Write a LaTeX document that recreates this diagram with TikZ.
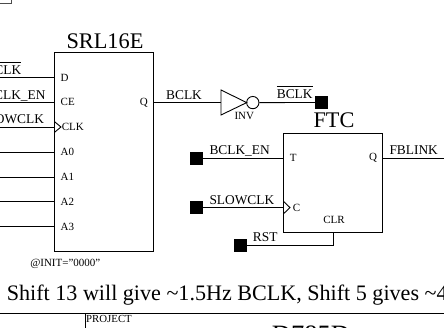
\documentclass[tikz,border=0pt]{standalone}
\usepackage{fontspec}
\setmainfont{Liberation Serif}
\newcommand\barred[1]{\setbox0\hbox{#1}\rlap{\rule[11.8pt]{\wd0}{0.7pt}}\box0 }
\tikzset{
  wire/.style={line width=0.9pt,draw=black},
  part/.style={line width=0.9pt,draw=black},
  pin/.style={inner sep=0pt,font=\fontsize{11}{12}\selectfont},
  net/.style={inner sep=0pt,font=\fontsize{13.4}{14}\selectfont},
  ttl/.style={inner sep=0pt,font=\fontsize{22.3}{24}\selectfont},
  term/.style={fill=black,draw=none,minimum size=13pt,inner sep=0pt},
}
\begin{document}
\begin{tikzpicture}[x=1pt,y=-1pt]
\useasboundingbox (0,0) rectangle (444,328);
\clip (0,0) rectangle (444,328);
\fill[white] (0,0) rectangle (444,328);
% top-left fragment
\draw[part,black!70] (-2,3) -- (11.3,3) -- (11.3,-2);
% SRL16E
\node[part,draw,minimum width=99.4pt,minimum height=198.3pt,inner sep=0pt] (srl) at (104,151.85) {};
\node[ttl,anchor=base] (srlt) at (105,48.3) {SRL16E};
\foreach \n/\t/\y in {d/D/77.7,ce/CE/102.3,a0/A0/152,a1/A1/177,a2/A2/201.5,a3/A3/226.5}{
  \coordinate (s\n) at (54.3,\y);
  \coordinate (l\n) at (-2,\y);
  \draw[wire] (l\n) -- (s\n);
  \node[pin,anchor=west] (t\n) at (60.5,\y) {\t};
}
\coordinate (sclk) at (54.3,127);
\coordinate (lclk) at (-2,127);
\draw[wire] (lclk) -- (sclk);
\coordinate (ca) at (54.3,121.5);
\coordinate (cb) at (61,127);
\coordinate (cc) at (54.3,132.5);
\draw[wire] (ca) -- (cb) -- (cc);
\node[pin,anchor=west] (tclk) at (61.7,127) {CLK};
\node[pin,anchor=east] (tq) at (148,102.3) {Q};
\node[net,anchor=base west] (n1) at (-14.7,75) {\barred{BCLK}};
\node[net,anchor=base west] (n2) at (-15,99.3) {BCLK\_EN};
\node[net,anchor=base west] (n3) at (-21,124) {SLOWCLK};
\node[pin,anchor=center] (init) at (65.3,264) {@INIT="0000"};
% Q to inverter
\coordinate (invA) at (221,90);
\coordinate (invB) at (221,115);
\coordinate (invC) at (246.7,102.6);
\node[circle,part,draw,inner sep=0pt,minimum size=12.3pt] (bub) at (252.8,102.6) {};
\draw[part] (invA) -- (invB) -- (invC) -- cycle;
\coordinate (qs) at (153.7,102.3);
\draw[wire] (qs) -- (invA |- qs);
\node[net,anchor=base] (bc) at (184,99.3) {BCLK};
\node[pin,anchor=center] (inv) at (244.3,115.7) {INV};
\node[term] (tb) at (321.7,102.5) {};
\draw[wire] (bub) -- (tb);
\node[net,anchor=base] (bcb) at (294.7,99) {\barred{BCLK}};
% FTC
\node[part,draw,minimum width=99pt,minimum height=99pt,inner sep=0pt] (ftc) at (333.2,182.8) {};
\node[ttl,anchor=base] (ftct) at (334,128) {FTC};
\node[term] (t1) at (196.5,158.3) {};
\node[term] (t2) at (196.5,207.6) {};
\node[term] (t3) at (240.7,245.5) {};
\coordinate (ft) at (283.7,158.3);
\coordinate (fc) at (283.7,207.6);
\coordinate (fq) at (382.7,158.3);
\coordinate (fr) at (333.5,232.3);
\coordinate (fre) at (446,158.3);
\draw[wire] (t1) -- (ft);
\draw[wire] (t2) -- (fc);
\draw[wire] (fq) -- (fre);
\draw[wire] (t3) -- (fr |- t3) -- (fr);
\coordinate (fa) at (283.7,201.6);
\coordinate (fb) at (290,207.6);
\coordinate (fd) at (283.7,213.6);
\draw[wire] (fa) -- (fb) -- (fd);
\node[pin,anchor=west] (pt) at (289.7,158) {T};
\node[pin,anchor=west] (pc) at (292.7,208) {C};
\node[pin,anchor=center] (pclr) at (334,220) {CLR};
\node[pin,anchor=east] (pq) at (377.3,158) {Q};
\node[net,anchor=base west] (l1) at (209.3,154.3) {BCLK\_EN};
\node[net,anchor=base west] (l2) at (209.3,205) {SLOWCLK};
\node[net,anchor=base west] (l3) at (252.7,241.7) {RST};
\node[net,anchor=base west] (l4) at (389.3,154.3) {FBLINK};
% note
\node[inner sep=0pt,anchor=base west,font=\fontsize{22.1}{24}\selectfont] (note) at (6.7,301) {Shift 13 will give \textasciitilde 1.5Hz BCLK, Shift 5 gives \textasciitilde 4};
% title block
\coordinate (bl) at (-2,313.4);
\coordinate (br) at (446,313.4);
\coordinate (v1) at (85.4,313.4);
\coordinate (v2) at (85.4,330);
\draw[part] (bl) -- (br);
\draw[part] (v1) -- (v2);
\node[inner sep=0pt,anchor=base west,font=\fontsize{10.8}{12}\selectfont] (proj) at (86,322.7) {PROJECT};
\node[inner sep=0pt,anchor=base,font=\fontsize{26.5}{28}\selectfont] (dn) at (311,343.5) {D785D};
\end{tikzpicture}
\end{document}
